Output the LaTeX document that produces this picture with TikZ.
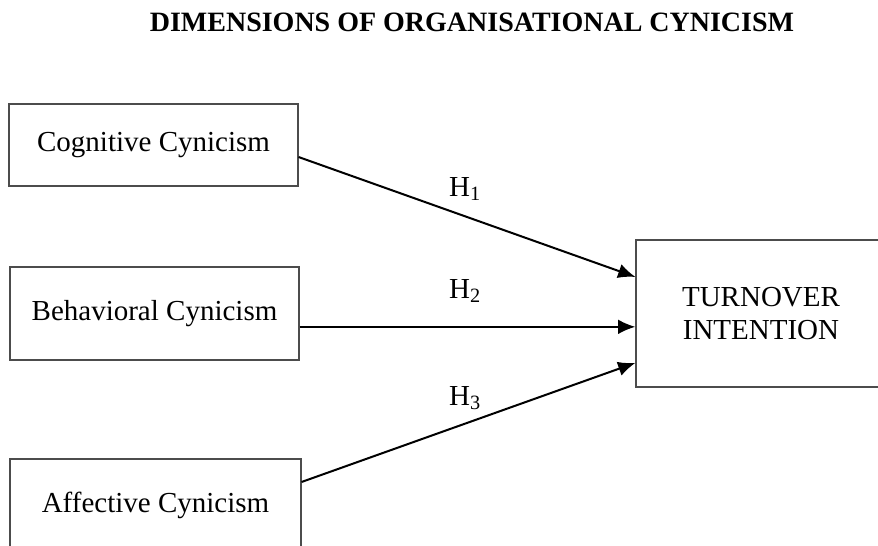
\documentclass[tikz,border=0pt]{standalone}
\usepackage{fontspec}
\setmainfont{Liberation Serif}
\usetikzlibrary{arrows.meta}
\usetikzlibrary{positioning}

\begin{document}
\begin{tikzpicture}[x=0.75pt, y=-0.75pt, every node/.style={font=\fontsize{21.75}{24.75}\selectfont},
		dimbox/.style={draw=black!70, line width=0.8pt, inner sep=0pt, align=center},
		hyparrow/.style={-{Latex[length=13pt, width=11pt]}, line width=1.5pt}]
		\useasboundingbox (0,0) rectangle (878,546);
		\clip (0,0) rectangle (878,546);
		\node[font=\bfseries\fontsize{21}{25}\selectfont] (title) at (472,22) {DIMENSIONS OF ORGANISATIONAL CYNICISM};
		% dimensions
		\node[dimbox, minimum width=216.75pt, minimum height=61.5pt] (cog) at (153.5,145) {Cognitive Cynicism};
		\node[dimbox, minimum width=216.75pt, minimum height=69.75pt] (beh) at (154.5,313.5) {Behavioral Cynicism};
		\node[dimbox, minimum width=218.25pt, minimum height=69pt] (aff) at (155.5,505) {Affective Cynicism};
		% outcome
		\node[dimbox, minimum width=187.5pt, minimum height=110.25pt] (tov) at (761,313.5) {TURNOVER\\INTENTION};
		\draw[hyparrow] ([yshift=-9pt]cog.east) -- ([yshift=27.4pt]tov.west);
		\draw[hyparrow] ([yshift=-10pt]beh.east) -- ([yshift=-10pt]tov.west);
		\draw[hyparrow] ([yshift=17.25pt]aff.east) -- ([yshift=-37pt]tov.west);
		\node (h1) at (465,189) {H\textsubscript{1}};
		\node (h2) at (465,291) {H\textsubscript{2}};
		\node (h3) at (465,398) {H\textsubscript{3}};
	\end{tikzpicture}
\end{document}
